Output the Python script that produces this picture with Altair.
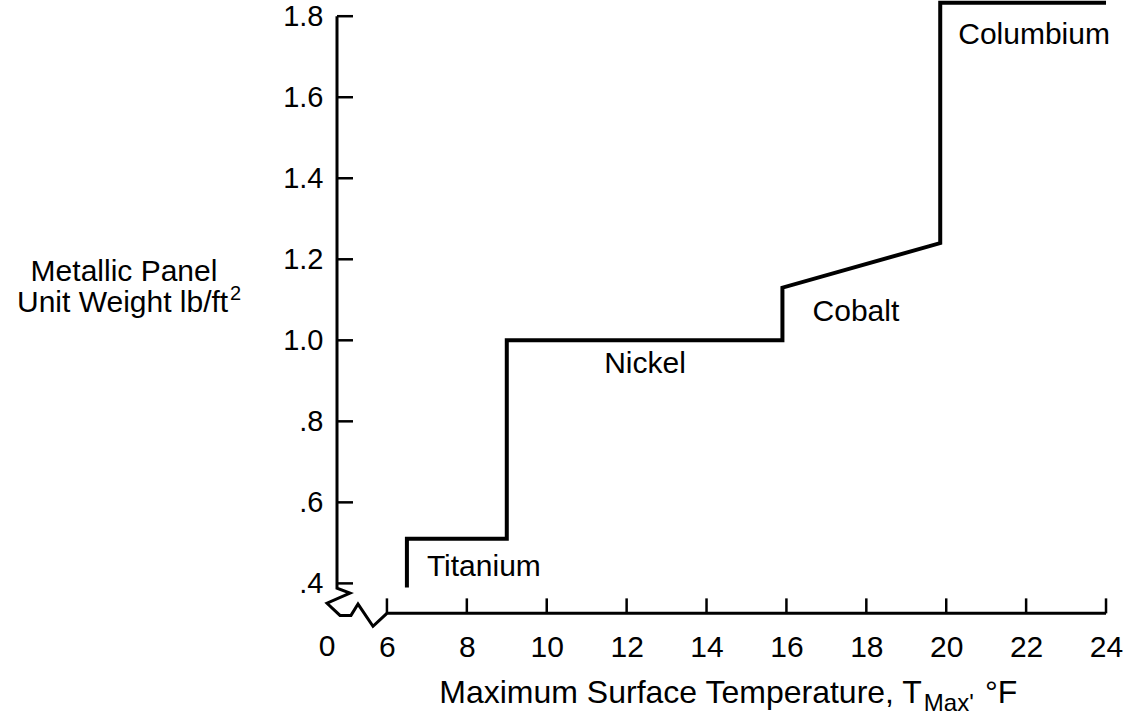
import altair as alt
import pandas as pd

# ---- data ----
# stepped weight curve (temperature, unit weight)
curve_x = [6.5, 6.5, 9.0, 9.0, 15.9, 15.9, 19.85, 19.85, 24.0]
curve_y = [0.39, 0.51, 0.51, 1.0, 1.0, 1.13, 1.24, 1.833, 1.833]

# axis frame with the broken-axis zigzag near the origin
frame_x = [4.75, 4.75, 5.075, 4.50, 4.825, 5.10, 5.276, 5.651, 6.0, 24.0]
frame_y = [1.8, 0.388, 0.376, 0.351, 0.321, 0.321, 0.349, 0.294, 0.326, 0.326]

y_tick_values = [0.4, 0.6, 0.8, 1.0, 1.2, 1.4, 1.6, 1.8]
x_tick_values = [6, 8, 10, 12, 14, 16, 18, 20, 22, 24]

metal_names = ["Titanium", "Nickel", "Cobalt", "Columbium"]
metal_x = [7.0, 12.46, 17.74, 22.2]
metal_y = [0.44, 0.941, 1.07, 1.754]

X_AXIS_Y = 0.326
Y_AXIS_X = 4.75

FONT = "Liberation Sans"
XDOM = [4.75, 24.35]
YDOM = [0.28, 1.84]

xs = alt.Scale(domain=XDOM, nice=False, zero=False)
ys = alt.Scale(domain=YDOM, nice=False, zero=False)

curve_df = pd.DataFrame({"x": curve_x, "y": curve_y, "o": range(len(curve_x))})
frame_df = pd.DataFrame({"x": frame_x, "y": frame_y, "o": range(len(frame_x))})
ytick_df = pd.DataFrame({"y": y_tick_values, "x": Y_AXIS_X, "x2": Y_AXIS_X + 0.4})
xtick_df = pd.DataFrame({"x": x_tick_values, "y": X_AXIS_Y, "y2": X_AXIS_Y + 0.037})
lab_df = pd.DataFrame({"name": metal_names, "x": metal_x, "y": metal_y})

ylabel_expr = ("datum.value >= 1 ? format(datum.value, '.1f') : "
               "replace(format(datum.value, '.1f'), '0.', '.')")

x_axis = alt.Axis(values=x_tick_values, domain=False, ticks=False, tickSize=0,
                  grid=False, labelFont=FONT, labelFontSize=30, labelColor="black",
                  labelPadding=0, labelBaseline="top", labelFlush=False,
                  labelOverlap=False, title="")
y_axis = alt.Axis(values=y_tick_values, domain=False, ticks=False, tickSize=0,
                  grid=False, labelFont=FONT, labelFontSize=29, labelColor="black",
                  labelPadding=14, labelExpr=ylabel_expr, labelFlush=False,
                  labelOverlap=False, title="")


def X(field="x:Q"):
    return alt.X(field, scale=xs, axis=x_axis)


def Y(field="y:Q"):
    return alt.Y(field, scale=ys, axis=y_axis)


curve = alt.Chart(curve_df).mark_line(color="black", strokeWidth=4, strokeJoin="miter").encode(
    x=X(), y=Y(), order="o:Q",
)

frame = alt.Chart(frame_df).mark_line(color="black", strokeWidth=3, strokeJoin="miter").encode(
    x=X(), y=Y(), order="o:Q",
)

yticks = alt.Chart(ytick_df).mark_rule(color="black", strokeWidth=2.5).encode(
    x=X(), x2="x2:Q", y=Y(),
)

xticks = alt.Chart(xtick_df).mark_rule(color="black", strokeWidth=2.5).encode(
    x=X(), y=Y(), y2="y2:Q",
)


def text_layer(df, size, align, baseline):
    return alt.Chart(df).mark_text(font=FONT, fontSize=size, color="black",
                                   align=align, baseline=baseline).encode(
        x=X(), y=Y(), text="name:N",
    )


labels_left = text_layer(lab_df.iloc[:1], 30, "left", "middle")
labels_center = text_layer(lab_df.iloc[1:], 30, "center", "middle")

# "0" label at the broken origin
zero_df = pd.DataFrame({"name": ["0"], "x": [4.5], "y": [0.28]})
zero = text_layer(zero_df, 30, "center", "top")

# x-axis title with subscript
xtitle_parts = ["Maximum Surface Temperature, T", "Max'", "°F"]
xtitle_x = [19.39, 19.44, 20.97]
xtitle_y = [0.104, 0.0844, 0.104]
tdf = pd.DataFrame({"name": xtitle_parts, "x": xtitle_x, "y": xtitle_y})
t_main = text_layer(tdf.iloc[[0]], 32, "right", "alphabetic")
t_sub = text_layer(tdf.iloc[[1]], 24, "left", "alphabetic")
t_unit = text_layer(tdf.iloc[[2]], 32, "left", "alphabetic")

# y-axis title (two lines, superscript 2)
ytitle_parts = ["Metallic Panel", "Unit Weight lb/ft", "2"]
ytitle_x = [-0.582, -3.260, 2.072]
ytitle_y = [1.1464, 1.0699, 1.0995]
ydf = pd.DataFrame({"name": ytitle_parts, "x": ytitle_x, "y": ytitle_y})
y_line1 = text_layer(ydf.iloc[[0]], 30, "center", "alphabetic")
y_line2 = text_layer(ydf.iloc[[1]], 30, "left", "alphabetic")
y_sup = text_layer(ydf.iloc[[2]], 20, "left", "alphabetic")

chart = alt.layer(curve, frame, yticks, xticks, labels_left, labels_center, zero,
                  t_main, t_sub, t_unit, y_line1, y_line2, y_sup).properties(
    width=783, height=632,
    autosize=alt.AutoSizeParams(type="none"),
    padding={"left": 337, "top": 0, "right": 7, "bottom": 85},
    background="white",
).configure_view(strokeWidth=0)

chart.save("out.html", embed_options={"renderer": "svg", "actions": False})
